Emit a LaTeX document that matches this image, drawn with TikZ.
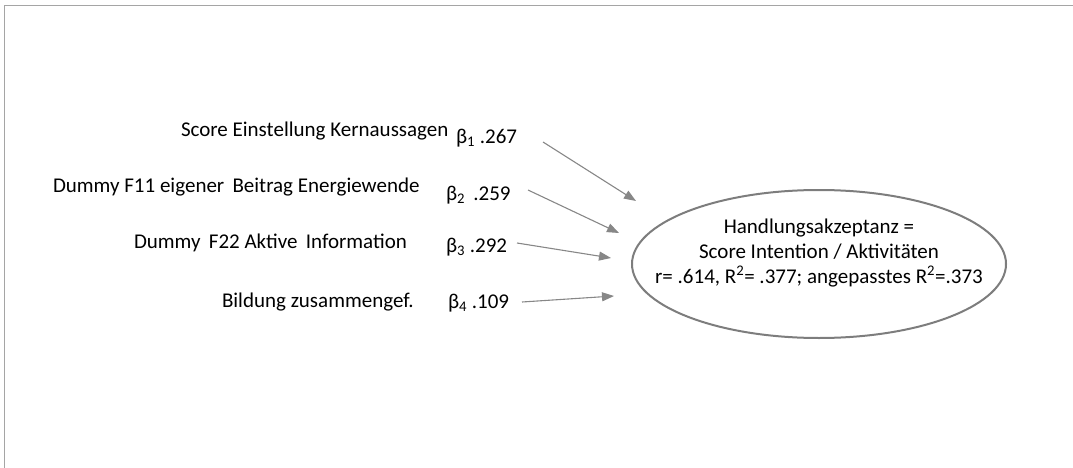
\documentclass[tikz,border=0pt]{standalone}
\usepackage{fontspec}
\setmainfont{Carlito}
\usetikzlibrary{arrows.meta,shapes.geometric}
\definecolor{framegray}{RGB}{165,165,165}
\definecolor{arrowgray}{RGB}{135,135,135}
\definecolor{ellgray}{RGB}{125,125,125}
\begin{document}
\begin{tikzpicture}[x=1pt,y=-1pt,
  every node/.style={inner sep=0pt,outer sep=0pt,font=\fontsize{21}{25}\selectfont},
  lbl/.style={anchor=base west},
  coef/.style={anchor=base west},
  effect/.style={draw=arrowgray,line width=1.1pt,-{Triangle[length=12,width=9]}},
  outcome/.style={ellipse,draw=ellgray,line width=2pt,minimum width=374,minimum height=148}]
  \useasboundingbox (0,0) rectangle (1073,468);
  % frame edges
  \draw[framegray,line width=1pt] (4,468) -- (4,6) -- (1073,6);

  % predictors
  \node[lbl] (l1) at (181,137) {Score Einstellung Kernaussagen};
  \node[lbl] (l2) at (53,192) {Dummy F11 eigener\, Beitrag Energiewende};
  \node[lbl] (l3) at (134,248) {Dummy\, F22 Aktive\, Information};
  \node[lbl] (l4) at (222,307) {Bildung zusammengef.};

  % coefficients
  \node[coef] (b1) at (456,143) {β\textsubscript{1} .267};
  \node[coef] (b2) at (446,200) {β\textsubscript{2}\, .259};
  \node[coef] (b3) at (446,252) {β\textsubscript{3} .292};
  \node[coef] (b4) at (448,308) {β\textsubscript{4} .109};

  % dependent variable
  \node[outcome] (hak) at (819,264) {};
  \node[align=center] (hakt) at (819,253) {Handlungsakzeptanz =\\Score Intention / Aktivitäten\\r= .614, R\textsuperscript{2}= .377; angepasstes R\textsuperscript{2}=.373};

  % arrow end points
  \coordinate (s1) at (543,142);  \coordinate (t1) at (636,201);
  \coordinate (s2) at (528,190);  \coordinate (t2) at (619,233);
  \coordinate (s3) at (517,243);  \coordinate (t3) at (611,258);
  \coordinate (s4) at (522,302);  \coordinate (t4) at (614,296);

  \draw[effect] (s1) -- (t1);
  \draw[effect] (s2) -- (t2);
  \draw[effect] (s3) -- (t3);
  \draw[effect] (s4) -- (t4);
\end{tikzpicture}
\end{document}
